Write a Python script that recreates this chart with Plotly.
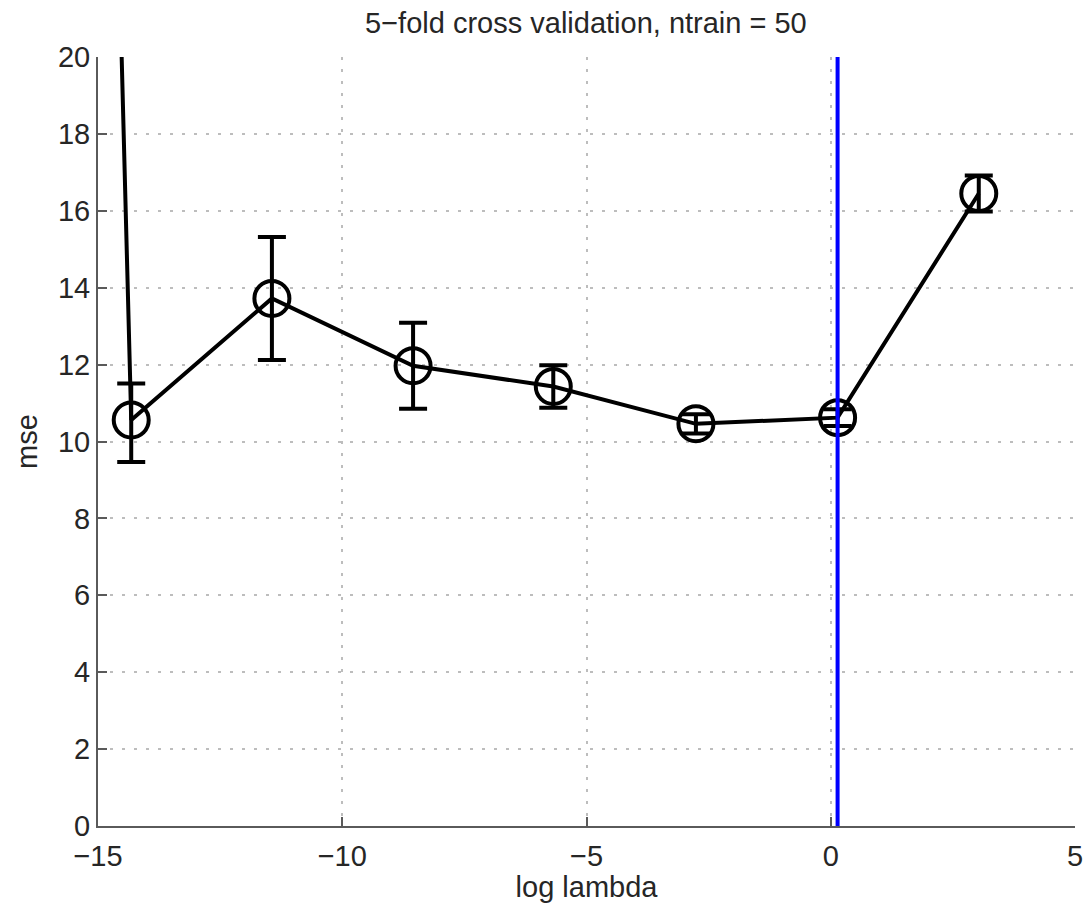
import plotly.graph_objects as go

log_lambda = [-17.21, -14.32, -11.44, -8.55, -5.68, -2.76, 0.14, 3.03]
mse = [150.0, 10.56, 13.72, 11.97, 11.43, 10.46, 10.62, 16.45]
err_plus = [0.0, 0.95, 1.60, 1.12, 0.55, 0.25, 0.22, 0.47]
err_minus = [0.0, 1.09, 1.60, 1.12, 0.55, 0.25, 0.22, 0.47]
best_log_lambda = 0.14

FONT = "Liberation Sans, Arial, Helvetica, sans-serif"
TXT = "#262626"
FS = 29

fig = go.Figure()
fig.add_trace(go.Scatter(
    x=log_lambda, y=mse,
    mode="lines+markers",
    line=dict(color="black", width=4),
    marker=dict(symbol="circle-open", size=35, color="black", line=dict(width=4, color="black")),
    error_y=dict(type="data", symmetric=False, array=err_plus, arrayminus=err_minus,
                 color="black", thickness=4, width=14),
    showlegend=False,
))
fig.add_trace(go.Scatter(
    x=[best_log_lambda, best_log_lambda], y=[0, 20],
    mode="lines", line=dict(color="#0000ff", width=4), showlegend=False,
))

fig.update_layout(
    width=1087, height=903,
    margin=dict(l=98, r=12, t=57, b=77, autoexpand=False),
    paper_bgcolor="white", plot_bgcolor="white",
    font=dict(family=FONT, size=FS, color=TXT),
    title=dict(text="5\u2212fold cross validation, ntrain = 50", x=0.539, xanchor="center",
               y=0.975, yanchor="middle", font=dict(family=FONT, size=FS, color=TXT)),
)
fig.update_xaxes(
    range=[-15, 5], tickvals=[-15, -10, -5, 0, 5],
    ticktext=["\u221215", "\u221210", "\u22125", "0", "5"],
    showline=True, linecolor="#5a5a5a", linewidth=2, mirror=False,
    ticks="inside", ticklen=9, tickwidth=2, tickcolor="#5a5a5a",
    showgrid=True, gridcolor="#bdbdbd", griddash="3px,9px", gridwidth=2,
    zeroline=False, automargin=False, ticklabelstandoff=3,
    title=dict(text="log lambda", standoff=10, font=dict(size=FS)),
    tickfont=dict(size=FS),
)
fig.update_yaxes(
    range=[0, 20], tickvals=list(range(0, 21, 2)),
    showline=True, linecolor="#5a5a5a", linewidth=2, mirror=False,
    ticks="inside", ticklen=9, tickwidth=2, tickcolor="#5a5a5a",
    showgrid=True, gridcolor="#bdbdbd", griddash="3px,9px", gridwidth=2,
    zeroline=False, automargin=False,
    title=dict(text="mse", standoff=12, font=dict(size=FS)),
    tickfont=dict(size=FS),
)

fig.write_html("out.html")
